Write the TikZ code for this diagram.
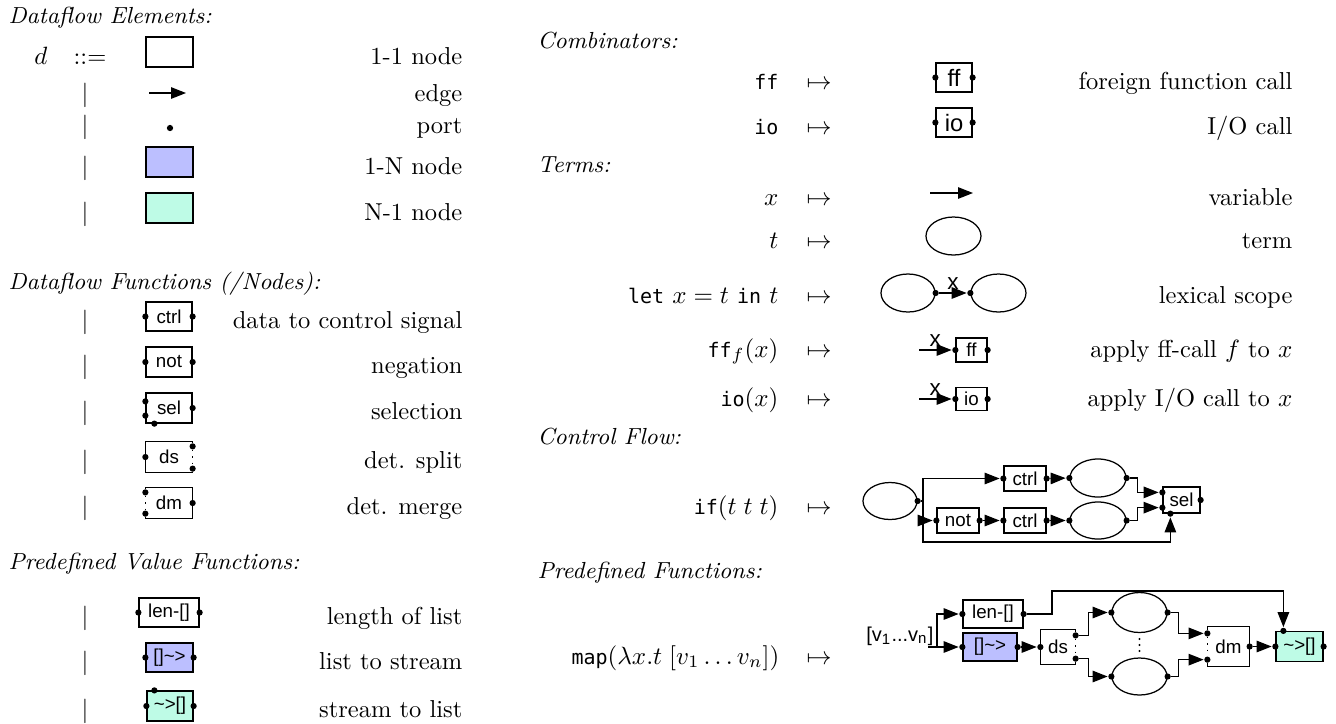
\documentclass[tikz,border=0pt]{standalone}
\usepackage{fontspec}
\newfontfamily\boxfont{Liberation Sans}
\newfontfamily\monof{DejaVu Sans Mono}
\usetikzlibrary{arrows.meta,shapes.geometric,calc}
\definecolor{bluec}{HTML}{BCBFFF}
\definecolor{mintc}{HTML}{BEFBE6}
\newcommand\ttx[1]{{\monof\fontsize{8}{10}\selectfont#1}}
\newcommand\tbox[7][]{%
  \node[box,bw=#5,bh=#6,#1] (#2) at (#3,#4) {#7};
  \node[port] (#2L) at (#2.west) {};
  \node[port] (#2R) at (#2.east) {};}
\begin{document}
\begin{tikzpicture}[x=0.4pt,y=-0.4pt,font=\fontsize{9.8}{12}\selectfont,line width=0.5pt,
  box/.style={draw,fill=white,inner sep=0pt,font=\boxfont\fontsize{7.5}{9}\selectfont},
  bigl/.style={font=\boxfont\fontsize{9.5}{11}\selectfont},
  bw/.style={minimum width=#1*0.4pt},
  bh/.style={minimum height=#1*0.4pt},
  ell/.style={draw,ellipse,inner sep=0pt},
  port/.style={circle,fill=black,inner sep=0pt,minimum size=2.5pt},
  arr/.style={-{Triangle[length=6pt,width=4.6pt]}},
  rt/.style={anchor=base east,inner sep=0pt},
  ct/.style={anchor=base,inner sep=0pt},
  hd/.style={anchor=base west,inner sep=0pt,font=\itshape\fontsize{9.3}{11}\selectfont},
  xl/.style={above,inner sep=1.3pt,font=\boxfont\fontsize{9}{10}\selectfont}]
\useasboundingbox (0,0) rectangle (1336,723);

% ---------------- left column ----------------
\node[hd] (h1) at (8,23) {Dataflow Elements:};
\node[ct] (dsym) at (41,64) {$d$};
\node[ct] (defs) at (90,64) {::=};
\node[box,bw=47,bh=30] (e11) at (169.5,52) {};
\node[rt] (t11) at (463,64) {1-1 node};

\node[ct] (bar1) at (85,101) {|};
\coordinate (ea) at (149,93); \coordinate (eb) at (186,93);
\draw[arr] (ea) -- (eb);
\node[rt] (tedge) at (463,101) {edge};

\node[ct] (bar2) at (85,133) {|};
\node[port] (pp) at (170,128) {};
\node[rt] (tport) at (463,133) {port};

\node[ct] (bar3) at (85,174) {|};
\node[box,fill=bluec,bw=47,bh=30] (e1n) at (169.5,162) {};
\node[rt] (t1n) at (463,174) {1-N node};

\node[ct] (bar4) at (85,220) {|};
\node[box,fill=mintc,bw=47,bh=30] (en1) at (169.5,208) {};
\node[rt] (tn1) at (463,220) {N-1 node};

\node[hd] (h2) at (8,289) {Dataflow Functions (/Nodes):};
\node[ct] (bar5) at (85,328) {|};
\tbox{fctrl}{169}{316.5}{46}{29}{ctrl}
\node[rt] (tctrl) at (463,328) {data to control signal};

\node[ct] (bar6) at (85,373.5) {|};
\tbox{fnot}{169}{362}{46}{30}{not}
\node[rt] (tnot) at (463,373.5) {negation};

\node[ct] (bar7) at (85,419.5) {|};
\node[box,bw=46,bh=30] (fsel) at (169,408) {sel};
\node[port] (fselI1) at ($(fsel.north west)+(0,9)$) {};
\node[port] (fselI2) at ($(fsel.south west)+(0,-8)$) {};
\node[port] (fselB) at ($(fsel.south west)+(9,0)$) {};
\node[port] (fselR) at (fsel.east) {};
\node[rt] (tsel) at (463,419.5) {selection};

\node[ct] (bar8) at (85,468.5) {|};
\node[box,draw=none,bw=46,bh=30] (fds) at (169,457) {ds};
\node[port] (fdsL) at (fds.west) {};
\node[port] (fdsO1) at ($(fds.north east)+(0,5)$) {};
\node[port] (fdsO2) at ($(fds.south east)+(0,-4)$) {};
\draw (fdsO1) -- (fds.north east) -- (fds.north west) -- (fds.south west) -- (fds.south east) -- (fdsO2);
\draw[dotted] (fdsO1) -- (fdsO2);
\node[rt] (tds) at (463,468.5) {det. split};

\node[ct] (bar9) at (85,514.5) {|};
\node[box,draw=none,bw=46,bh=30] (fdm) at (169,503) {dm};
\node[port] (fdmI1) at ($(fdm.north west)+(0,5)$) {};
\node[port] (fdmI2) at ($(fdm.south west)+(0,-5)$) {};
\node[port] (fdmR) at (fdm.east) {};
\draw (fdmI1) -- (fdm.north west) -- (fdm.north east) -- (fdm.south east) -- (fdm.south west) -- (fdmI2);
\draw[dotted] (fdmI1) -- (fdmI2);
\node[rt] (tdm) at (463,514.5) {det. merge};

\node[hd] (h3) at (8,569) {Predefined Value Functions:};
\node[ct] (bar10) at (85,624) {|};
\tbox{flen}{169}{612.5}{60}{29}{len-[]}
\node[rt] (tlen) at (463,624) {length of list};

\node[ct] (bar11) at (85,669) {|};
\tbox[fill=bluec]{fl2s}{169.5}{657.5}{47}{29}{[]\string~>}
\node[rt] (tl2s) at (463,669) {list to stream};

\node[ct] (bar12) at (85,717.5) {|};
\tbox[fill=mintc]{fs2l}{170}{706}{46}{30}{\string~>[]}
\node[port] (fs2lT) at ($(fs2l.north west)+(8,0)$) {};
\node[rt] (ts2l) at (463,717.5) {stream to list};

% ---------------- right column ----------------
\node[hd] (h4) at (537,48) {Combinators:};
\node[rt] (lff) at (779,89) {\ttx{ff}};
\node[ct] (mff) at (819,89) {$\mapsto$};
\tbox[bigl]{cff}{954}{77.5}{36}{29}{ff}
\node[rt] (rff) at (1293,89) {foreign function call};

\node[rt] (lio) at (779,134) {\ttx{io}};
\node[ct] (mio) at (819,134) {$\mapsto$};
\tbox[bigl]{cio}{954}{122.5}{36}{29}{io}
\node[rt] (rio) at (1293,134) {I/O call};

\node[hd] (h5) at (537,172) {Terms:};
\node[rt] (lx) at (779,205) {$x$};
\node[ct] (mx) at (819,205) {$\mapsto$};
\coordinate (va) at (930,193); \coordinate (vb) at (973,193);
\draw[arr] (va) -- (vb);
\node[rt] (rx) at (1293,205) {variable};

\node[rt] (lt) at (779,248) {$t$};
\node[ct] (mt) at (819,248) {$\mapsto$};
\node[ell,bw=55,bh=38] (et) at (953.5,236) {};
\node[rt] (rt1) at (1293,248) {term};

\node[rt] (llet) at (779,303) {\ttx{let} $x=t$ \ttx{in} $t$};
\node[ct] (mlet) at (819,303) {$\mapsto$};
\node[ell,bw=54,bh=38] (el1) at (908,293) {};
\node[ell,bw=55,bh=38] (el2) at (998.5,293) {};
\node[port] (el1R) at (el1.east) {};
\node[port] (el2L) at (el2.west) {};
\draw[arr] (el1R) -- node[xl] (xlet) {x} (el2L);
\node[rt] (rlet) at (1293,303) {lexical scope};

\node[rt] (lffx) at (779,357) {\ttx{ff}$_f(x)$};
\node[ct] (mffx) at (819,357) {$\mapsto$};
\coordinate (fxa) at (919,350);
\tbox{bff}{971.5}{350}{31}{24}{ff}
\draw[arr] (fxa) -- node[xl] (xff) {x} (bffL);
\node[rt] (rffx) at (1293,357) {apply ff-call $f$ to $x$};

\node[rt] (liox) at (779,406) {\ttx{io}$(x)$};
\node[ct] (miox) at (819,406) {$\mapsto$};
\coordinate (ixa) at (919,399);
\tbox{bio}{971.5}{399}{31}{23}{io}
\draw[arr] (ixa) -- node[xl] (xio) {x} (bioL);
\node[rt] (riox) at (1293,406) {apply I/O call to $x$};

\node[hd] (h6) at (537,444) {Control Flow:};
\node[rt] (lif) at (779,514) {\ttx{if}$(t\;t\;t)$};
\node[ct] (mif) at (819,514) {$\mapsto$};
\node[ell,bw=54,bh=37] (ie0) at (890,501) {};
\node[port] (ie0R) at (ie0.east) {};
\coordinate (ij) at (923,501);
\coordinate (ib) at (923,542);
\tbox{ic1}{1025}{478.5}{42}{25}{ctrl}
\tbox{inot}{958}{520.5}{42}{25}{not}
\tbox{ic2}{1025}{520.5}{42}{25}{ctrl}
\node[ell,bw=56,bh=38] (ie1) at (1098,478) {};
\node[ell,bw=56,bh=37] (ie2) at (1098,520.5) {};
\node[port] (ie1L) at (ie1.west) {};
\node[port] (ie1R) at (ie1.east) {};
\node[port] (ie2L) at (ie2.west) {};
\node[port] (ie2R) at (ie2.east) {};
\node[box,bw=37,bh=26] (isel) at (1181.5,500) {sel};
\node[port] (iselI1) at ($(isel.north west)+(0,6)$) {};
\node[port] (iselI2) at ($(isel.south west)+(0,-6)$) {};
\node[port] (iselB) at ($(isel.south west)+(8,0)$) {};
\node[port] (iselR) at (isel.east) {};
\draw (ie0R) -- (ij);
\draw[arr] (ij) |- (ic1L);
\draw[arr] (ij) |- (inotL);
\draw[arr] (ij) -- (ib) -| (iselB);
\draw[arr] (inotR) -- (ic2L);
\draw[arr] (ic1R) -- (ie1L);
\draw[arr] (ic2R) -- (ie2L);
\draw[arr] (ie1R) -- ++(11,0) |- (iselI1);
\draw[arr] (ie2R) -- ++(11,0) |- (iselI2);

\node[hd] (h7) at (537,578) {Predefined Functions:};
\node[rt] (lmap) at (780,664) {\ttx{map}$(\lambda x.t\;[v_1\ldots v_n])$};
\node[ct] (mmap) at (819,664) {$\mapsto$};
\node[anchor=base east,inner sep=0pt,font=\boxfont\fontsize{8}{9}\selectfont] (vlab) at (934,641) {[v\textsubscript{1}...v\textsubscript{n}]};
\coordinate (min) at (928,647);
\coordinate (mj) at (937,647);
\tbox{mlen}{993}{614}{60}{28}{len-[]}
\tbox[fill=bluec]{ml2s}{990}{647}{54}{28}{[]\string~>}
\node[box,draw=none,bw=34,bh=34] (mds) at (1058,647) {ds};
\node[port] (mdsL) at (mds.west) {};
\node[port] (mdsO1) at ($(mds.north east)+(0,6)$) {};
\node[port] (mdsO2) at ($(mds.south east)+(0,-6)$) {};
\draw (mdsO1) -- (mds.north east) -- (mds.north west) -- (mds.south west) -- (mds.south east) -- (mdsO2);
\draw[dotted] (mdsO1) -- (mdsO2);
\node[ell,bw=55,bh=40] (me1) at (1139.5,612.5) {};
\node[ell,bw=55,bh=37] (me2) at (1139.5,676.5) {};
\node[port] (me1L) at (me1.west) {};
\node[port] (me1R) at (me1.east) {};
\node[port] (me2L) at (me2.west) {};
\node[port] (me2R) at (me2.east) {};
\fill (1139.5,639) circle (0.45pt) (1139.5,645) circle (0.45pt) (1139.5,651) circle (0.45pt);
\node[box,draw=none,bw=41,bh=39] (mdm) at (1228.5,646.5) {dm};
\node[port] (mdmI1) at ($(mdm.north west)+(0,7)$) {};
\node[port] (mdmI2) at ($(mdm.south west)+(0,-7)$) {};
\node[port] (mdmR) at (mdm.east) {};
\draw (mdmI1) -- (mdm.north west) -- (mdm.north east) -- (mdm.south east) -- (mdm.south west) -- (mdmI2);
\draw[dotted] (mdmI1) -- (mdmI2);
\tbox[fill=mintc]{ms2l}{1299.5}{646.5}{47}{30}{\string~>[]}
\node[port] (ms2lT) at ($(ms2l.north west)+(8,0)$) {};
\coordinate (mb1) at (1052,591);
\draw (min) -- (mj);
\draw[arr] (mj) |- (mlenL);
\draw[arr] (mj) -- (ml2sL);
\draw[arr] (mlenR) -| (mb1) -| (ms2lT);
\draw[arr] (ml2sR) -- (mdsL);
\draw[arr] (mdsO1) -- ++(13,0) |- (me1L);
\draw[arr] (mdsO2) -- ++(13,0) |- (me2L);
\draw[arr] (me1R) -- ++(11,0) |- (mdmI1);
\draw[arr] (me2R) -- ++(11,0) |- (mdmI2);
\draw[arr] (mdmR) -- (ms2lL);
\end{tikzpicture}
\end{document}
